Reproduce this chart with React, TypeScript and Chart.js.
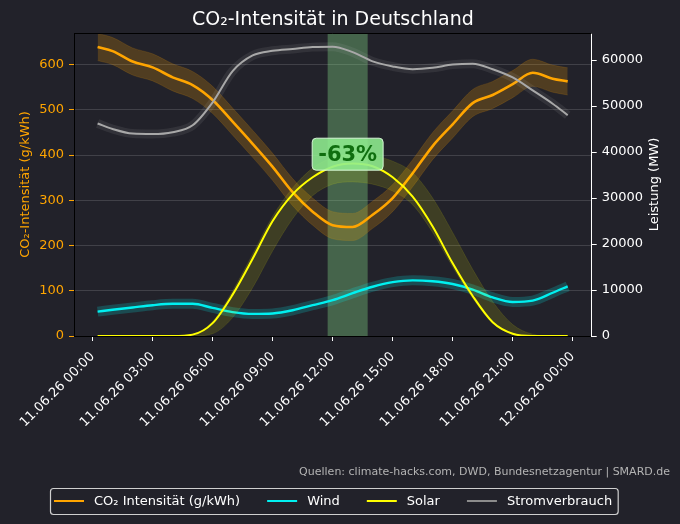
import React, { useEffect, useRef } from 'react';
import { Chart, registerables } from 'chart.js';

Chart.register(...registerables);

// ---------- data ----------
const hours = [0.25, 1, 2, 3, 4, 5, 6, 7, 8, 9, 10, 11, 12, 13, 14, 15, 16, 17, 18, 19, 20, 21, 22, 23, 23.75];
const co2 = [639, 630, 607, 594, 572, 555, 522, 474, 425, 374, 318, 275, 245, 241, 268, 305, 360, 420, 468, 515, 533, 557, 582, 569, 563];
const co2Uncertainty = 30;
const wind = [5300, 5700, 6200, 6700, 7000, 7000, 6100, 5200, 4800, 4900, 5600, 6700, 7800, 9300, 10700, 11700, 12100, 11900, 11300, 10100, 8400, 7400, 7700, 9400, 10800];
const solar = [0, 0, 0, 0, 0, 300, 2800, 9000, 16800, 25000, 30800, 34500, 36800, 37500, 36900, 34500, 30300, 23800, 15800, 8700, 3000, 500, 0, 0, 0];
const solarLow = [0, 0, 0, 0, 0, 0, 500, 4000, 10500, 18500, 25500, 30500, 33000, 33500, 33000, 31500, 28500, 22500, 15000, 8200, 2800, 400, 0, 0, 0];
const solarHigh = [0, 0, 0, 0, 0, 400, 3200, 9800, 17800, 26000, 32200, 36500, 38800, 39500, 39200, 38000, 35500, 30000, 22500, 14500, 7500, 2500, 400, 0, 0];
const load = [46200, 45000, 44000, 43900, 44300, 45800, 50800, 57600, 61000, 62000, 62400, 62800, 62900, 61700, 59700, 58600, 58000, 58300, 59000, 59200, 58000, 56200, 53400, 50500, 48000];

const xTickHours = [0, 3, 6, 9, 12, 15, 18, 21, 24];
const xTickLabels = ['11.06.26 00:00', '11.06.26 03:00', '11.06.26 06:00', '11.06.26 09:00', '11.06.26 12:00', '11.06.26 15:00', '11.06.26 18:00', '11.06.26 21:00', '12.06.26 00:00'];
const leftTicks = [0, 100, 200, 300, 400, 500, 600];
const rightTicks = [0, 10000, 20000, 30000, 40000, 50000, 60000];
const seriesNames = ['CO₂ Intensität (g/kWh)', 'Wind', 'Solar', 'Stromverbrauch'];

const highlightStart = 11.75;
const highlightEnd = 13.75;
const annotationText = '-63%';
const annotationHour = 12.75;
const annotationValue = 402;

const titleText = 'CO₂-Intensität in Deutschland';
const leftAxisTitle = 'CO₂-Intensität (g/kWh)';
const rightAxisTitle = 'Leistung (MW)';
const footerText = 'Quellen: climate-hacks.com, DWD, Bundesnetzagentur | SMARD.de';

// ---------- style ----------
const BG = '#22222a';
const FONT = '"DejaVu Sans", "Liberation Sans", sans-serif';
const ORANGE = '#ffa500';
const CYAN = '#00f0f0';
const YELLOW = '#ffff00';
const GREY = '#a8a8a8';
const seriesColors = [ORANGE, CYAN, YELLOW, '#8c8c8c'];

const pts = (vals: number[]) => hours.map((h, i) => ({ x: h, y: vals[i] }));

function roundRect(ctx: CanvasRenderingContext2D, x: number, y: number, w: number, h: number, r: number) {
  ctx.beginPath();
  ctx.moveTo(x + r, y);
  ctx.lineTo(x + w - r, y);
  ctx.quadraticCurveTo(x + w, y, x + w, y + r);
  ctx.lineTo(x + w, y + h - r);
  ctx.quadraticCurveTo(x + w, y + h, x + w - r, y + h);
  ctx.lineTo(x + r, y + h);
  ctx.quadraticCurveTo(x, y + h, x, y + h - r);
  ctx.lineTo(x, y + r);
  ctx.quadraticCurveTo(x, y, x + r, y);
  ctx.closePath();
}

const bgPlugin = {
  id: 'bgPlugin',
  beforeDraw(chart: any) {
    const { ctx, width, height } = chart;
    ctx.save();
    ctx.fillStyle = BG;
    ctx.fillRect(0, 0, width, height);
    ctx.restore();
  },
};

const highlightPlugin = {
  id: 'highlightPlugin',
  beforeDatasetsDraw(chart: any) {
    const { ctx, chartArea, scales } = chart;
    const x0 = scales.x.getPixelForValue(highlightStart);
    const x1 = scales.x.getPixelForValue(highlightEnd);
    ctx.save();
    ctx.fillStyle = 'rgba(144,238,144,0.33)';
    ctx.fillRect(x0, chartArea.top, x1 - x0, chartArea.bottom - chartArea.top);
    ctx.restore();
  },
};

const annotationPlugin = {
  id: 'annotationPlugin',
  afterDatasetsDraw(chart: any) {
    const { ctx, scales } = chart;
    const cx = scales.x.getPixelForValue(annotationHour);
    const cy = scales.y.getPixelForValue(annotationValue);
    ctx.save();
    ctx.font = `bold 21px ${FONT}`;
    const tw = ctx.measureText(annotationText).width;
    const w = tw + 12;
    const h = 32;
    roundRect(ctx, cx - w / 2, cy - h / 2, w, h, 4);
    ctx.fillStyle = 'rgba(144,238,144,0.88)';
    ctx.fill();
    ctx.strokeStyle = 'rgba(225,255,225,0.9)';
    ctx.lineWidth = 1;
    ctx.stroke();
    ctx.fillStyle = '#0f6e0f';
    ctx.textAlign = 'center';
    ctx.textBaseline = 'middle';
    ctx.fillText(annotationText, cx, cy + 1);
    ctx.restore();
  },
};

const decorPlugin = {
  id: 'decorPlugin',
  afterDraw(chart: any) {
    const { ctx, chartArea } = chart;
    const { left, right, top, bottom } = chartArea;
    ctx.save();
    // top spine
    ctx.strokeStyle = '#000000';
    ctx.lineWidth = 1;
    ctx.beginPath();
    ctx.moveTo(left, top + 0.5);
    ctx.lineTo(right, top + 0.5);
    ctx.stroke();

    // title
    ctx.fillStyle = '#ffffff';
    ctx.font = `19px ${FONT}`;
    ctx.textAlign = 'center';
    ctx.textBaseline = 'alphabetic';
    ctx.fillText(titleText, (left + right) / 2, 25);

    // axis titles
    const midY = (top + bottom) / 2;
    ctx.font = `13px ${FONT}`;
    ctx.textBaseline = 'middle';
    ctx.save();
    ctx.translate(26, midY);
    ctx.rotate(-Math.PI / 2);
    ctx.fillStyle = ORANGE;
    ctx.fillText(leftAxisTitle, 0, 0);
    ctx.restore();
    ctx.save();
    ctx.translate(655, midY);
    ctx.rotate(-Math.PI / 2);
    ctx.fillStyle = '#ffffff';
    ctx.fillText(rightAxisTitle, 0, 0);
    ctx.restore();

    // footer
    ctx.font = `11px ${FONT}`;
    ctx.fillStyle = '#b4b4b4';
    ctx.textAlign = 'right';
    ctx.textBaseline = 'alphabetic';
    ctx.fillText(footerText, 670, 475);

    // legend
    ctx.font = `13px ${FONT}`;
    ctx.textAlign = 'left';
    ctx.textBaseline = 'middle';
    const yLine = 501;
    let xc = 54;
    let lastEnd = xc;
    seriesNames.forEach((name, i) => {
      ctx.strokeStyle = seriesColors[i];
      ctx.lineWidth = 2;
      ctx.beginPath();
      ctx.moveTo(xc, yLine);
      ctx.lineTo(xc + 30, yLine);
      ctx.stroke();
      ctx.fillStyle = '#ffffff';
      ctx.fillText(name, xc + 40, yLine + 1);
      const tw = ctx.measureText(name).width;
      lastEnd = xc + 40 + tw;
      xc = lastEnd + 27;
    });
    roundRect(ctx, 50.5, 488.5, lastEnd + 6 - 50.5, 26, 3);
    ctx.strokeStyle = '#cfcfcf';
    ctx.lineWidth = 1.2;
    ctx.stroke();
    ctx.restore();
  },
};

export default function App() {
  const canvasRef = useRef<HTMLCanvasElement | null>(null);

  useEffect(() => {
    document.body.style.margin = '0';
    document.body.style.background = BG;
    const canvas = canvasRef.current;
    if (!canvas) return;

    const lineBase = {
      pointRadius: 0,
      pointHoverRadius: 0,
      cubicInterpolationMode: 'monotone' as const,
      fill: false,
    };

    const chart = new Chart(canvas, {
      type: 'line',
      data: {
        datasets: [
          // CO2 band
          {
            ...lineBase,
            label: 'co2High',
            data: pts(co2.map((v) => v + co2Uncertainty)),
            yAxisID: 'y',
            borderColor: 'rgba(255,165,0,0.14)',
            borderWidth: 1,
            backgroundColor: 'rgba(255,165,0,0.21)',
            fill: '+1',
            order: 20,
          },
          {
            ...lineBase,
            label: 'co2Low',
            data: pts(co2.map((v) => v - co2Uncertainty)),
            yAxisID: 'y',
            borderColor: 'rgba(255,165,0,0.14)',
            borderWidth: 1,
            order: 19,
          },
          {
            ...lineBase,
            label: seriesNames[0],
            data: pts(co2),
            yAxisID: 'y',
            borderColor: ORANGE,
            borderWidth: 2.6,
            order: 18,
          },
          // wind
          {
            ...lineBase,
            label: 'windGlow',
            data: pts(wind),
            yAxisID: 'y1',
            borderColor: 'rgba(0,240,240,0.2)',
            borderWidth: 10,
            order: 17,
          },
          {
            ...lineBase,
            label: seriesNames[1],
            data: pts(wind),
            yAxisID: 'y1',
            borderColor: CYAN,
            borderWidth: 2.4,
            order: 16,
          },
          // solar band
          {
            ...lineBase,
            label: 'solarHigh',
            data: pts(solarHigh),
            yAxisID: 'y1',
            borderColor: 'rgba(255,255,0,0.1)',
            borderWidth: 1,
            backgroundColor: 'rgba(255,255,0,0.13)',
            fill: '+1',
            order: 15,
          },
          {
            ...lineBase,
            label: 'solarLow',
            data: pts(solarLow),
            yAxisID: 'y1',
            borderColor: 'rgba(255,255,0,0.1)',
            borderWidth: 1,
            order: 14,
          },
          {
            ...lineBase,
            label: seriesNames[2],
            data: pts(solar),
            yAxisID: 'y1',
            borderColor: YELLOW,
            borderWidth: 2,
            order: 13,
          },
          // load
          {
            ...lineBase,
            label: 'loadGlow',
            data: pts(load),
            yAxisID: 'y1',
            borderColor: 'rgba(200,200,200,0.1)',
            borderWidth: 9,
            order: 12,
          },
          {
            ...lineBase,
            label: seriesNames[3],
            data: pts(load),
            yAxisID: 'y1',
            borderColor: GREY,
            borderWidth: 2,
            order: 11,
          },
        ],
      },
      options: {
        responsive: false,
        animation: false,
        events: [],
        layout: { padding: { top: 33, left: 0, right: 0, bottom: 0 } },
        plugins: {
          legend: { display: false },
          title: { display: false },
          tooltip: { enabled: false },
        },
        scales: {
          x: {
            type: 'linear',
            min: -0.93,
            max: 24.95,
            afterFit: (scale: any) => {
              scale.height = 188;
            },
            afterBuildTicks: (scale: any) => {
              scale.ticks = xTickHours.map((v) => ({ value: v }));
            },
            ticks: {
              autoSkip: false,
              minRotation: 45,
              maxRotation: 45,
              color: '#ffffff',
              font: { family: FONT, size: 13 },
              padding: 8,
              callback: (_v: any, i: number) => xTickLabels[i],
            },
            grid: {
              drawOnChartArea: false,
              drawTicks: true,
              tickLength: 5,
              tickColor: '#ffffff',
            },
            border: { color: '#000000', width: 1 },
          },
          y: {
            type: 'linear',
            position: 'left',
            min: 0,
            max: 670,
            afterFit: (scale: any) => {
              scale.width = 74;
            },
            afterBuildTicks: (scale: any) => {
              scale.ticks = leftTicks.map((v) => ({ value: v }));
            },
            ticks: {
              color: ORANGE,
              font: { family: FONT, size: 13 },
              padding: 5,
              callback: (v: any) => String(v),
            },
            grid: {
              color: 'rgba(255,255,255,0.14)',
              lineWidth: 1,
              drawTicks: true,
              tickLength: 5,
              tickColor: ORANGE,
            },
            border: { color: '#000000', width: 1 },
          },
          y1: {
            type: 'linear',
            position: 'right',
            min: 0,
            max: 65870,
            afterFit: (scale: any) => {
              scale.width = 88.3;
            },
            afterBuildTicks: (scale: any) => {
              scale.ticks = rightTicks.map((v) => ({ value: v }));
            },
            ticks: {
              color: '#ffffff',
              font: { family: FONT, size: 13 },
              padding: 5,
              callback: (v: any) => String(v),
            },
            grid: {
              drawOnChartArea: false,
              drawTicks: true,
              tickLength: 5,
              tickColor: '#ffffff',
            },
            border: { color: '#ffffff', width: 1 },
          },
        },
      } as any,
      plugins: [bgPlugin, highlightPlugin, annotationPlugin, decorPlugin],
    });

    return () => {
      chart.destroy();
    };
  }, []);

  return (
    <div style={{ width: 680, height: 524, position: 'relative', background: BG }}>
      <canvas ref={canvasRef} width={680} height={524} style={{ display: 'block' }} />
    </div>
  );
}
